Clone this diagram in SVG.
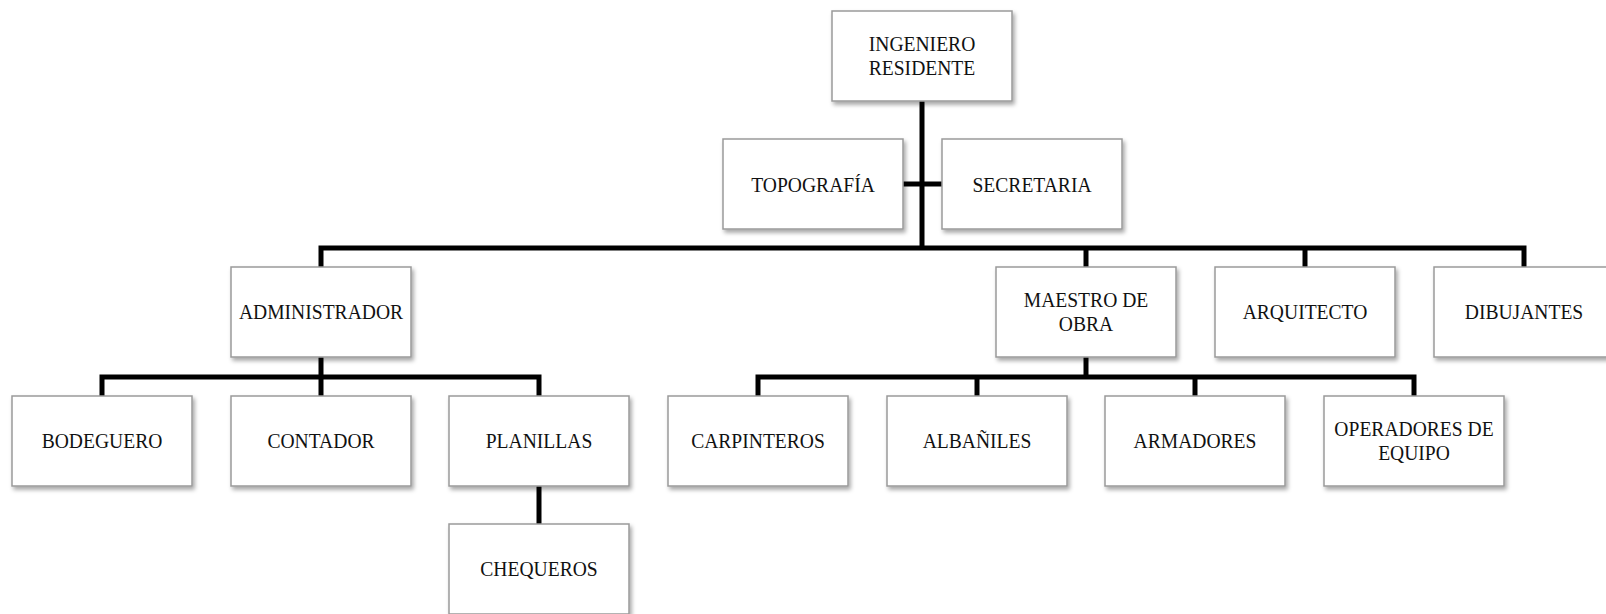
<svg xmlns="http://www.w3.org/2000/svg" width="1606" height="614" viewBox="0 0 1606 614">
  <defs>
    <filter id="shadow" x="-10%" y="-10%" width="125%" height="130%">
      <feDropShadow dx="2" dy="3" stdDeviation="2" flood-color="#000" flood-opacity="0.35"/>
    </filter>
    <style>
      .box { fill: #fff; stroke: #9a9a9a; stroke-width: 1.5; filter: url(#shadow); }
      .lbl { font-family: "Liberation Serif", "Times New Roman", serif; font-size: 22px; fill: #111; text-anchor: middle; }
      .wire { fill: none; stroke: #000; stroke-width: 5; stroke-linejoin: miter; stroke-linecap: butt; }
    </style>
  </defs>
  <rect width="1606" height="614" fill="#fff"/>

  <!-- connectors -->
  <g id="connectors">
    <path class="wire" d="M922,101 V248"/>
    <path class="wire" d="M903,184 H942"/>
    <path class="wire" d="M321,267 V248 H1524 V267"/>
    <path class="wire" d="M1086,248 V267"/>
    <path class="wire" d="M1305,248 V267"/>
    <path class="wire" d="M102,396 V377 H539 V396"/>
    <path class="wire" d="M321,357 V396"/>
    <path class="wire" d="M539,486 V524"/>
    <path class="wire" d="M758,396 V377 H1414 V396"/>
    <path class="wire" d="M1086,357 V377"/>
    <path class="wire" d="M977,377 V396"/>
    <path class="wire" d="M1195,377 V396"/>
  </g>

  <!-- nodes: box 180x90, label centred, glyphs narrowed horizontally -->
  <g id="n-ingeniero" transform="translate(832 11)">
    <rect class="box" width="180" height="90"/>
    <text class="lbl" transform="translate(90 39.5) scale(0.89 1)"><tspan x="0" y="0">INGENIERO</tspan><tspan x="0" y="25">RESIDENTE</tspan></text>
  </g>
  <g id="n-topografia" transform="translate(723 139)">
    <rect class="box" width="180" height="90"/>
    <text class="lbl" transform="translate(90 53) scale(0.89 1)">TOPOGRAFÍA</text>
  </g>
  <g id="n-secretaria" transform="translate(942 139)">
    <rect class="box" width="180" height="90"/>
    <text class="lbl" transform="translate(90 53) scale(0.89 1)">SECRETARIA</text>
  </g>
  <g id="n-administrador" transform="translate(231 267)">
    <rect class="box" width="180" height="90"/>
    <text class="lbl" transform="translate(90 52) scale(0.89 1)">ADMINISTRADOR</text>
  </g>
  <g id="n-maestro" transform="translate(996 267)">
    <rect class="box" width="180" height="90"/>
    <text class="lbl" transform="translate(90 39.5) scale(0.89 1)"><tspan x="0" y="0">MAESTRO DE</tspan><tspan x="0" y="25">OBRA</tspan></text>
  </g>
  <g id="n-arquitecto" transform="translate(1215 267)">
    <rect class="box" width="180" height="90"/>
    <text class="lbl" transform="translate(90 52) scale(0.89 1)">ARQUITECTO</text>
  </g>
  <g id="n-dibujantes" transform="translate(1434 267)">
    <rect class="box" width="180" height="90"/>
    <text class="lbl" transform="translate(90 52) scale(0.89 1)">DIBUJANTES</text>
  </g>
  <g id="n-bodeguero" transform="translate(12 396)">
    <rect class="box" width="180" height="90"/>
    <text class="lbl" transform="translate(90 52) scale(0.89 1)">BODEGUERO</text>
  </g>
  <g id="n-contador" transform="translate(231 396)">
    <rect class="box" width="180" height="90"/>
    <text class="lbl" transform="translate(90 52) scale(0.89 1)">CONTADOR</text>
  </g>
  <g id="n-planillas" transform="translate(449 396)">
    <rect class="box" width="180" height="90"/>
    <text class="lbl" transform="translate(90 52) scale(0.89 1)">PLANILLAS</text>
  </g>
  <g id="n-chequeros" transform="translate(449 524)">
    <rect class="box" width="180" height="90"/>
    <text class="lbl" transform="translate(90 52) scale(0.89 1)">CHEQUEROS</text>
  </g>
  <g id="n-carpinteros" transform="translate(668 396)">
    <rect class="box" width="180" height="90"/>
    <text class="lbl" transform="translate(90 52) scale(0.89 1)">CARPINTEROS</text>
  </g>
  <g id="n-albaniles" transform="translate(887 396)">
    <rect class="box" width="180" height="90"/>
    <text class="lbl" transform="translate(90 52) scale(0.89 1)">ALBAÑILES</text>
  </g>
  <g id="n-armadores" transform="translate(1105 396)">
    <rect class="box" width="180" height="90"/>
    <text class="lbl" transform="translate(90 52) scale(0.89 1)">ARMADORES</text>
  </g>
  <g id="n-operadores" transform="translate(1324 396)">
    <rect class="box" width="180" height="90"/>
    <text class="lbl" transform="translate(90 39.5) scale(0.89 1)"><tspan x="0" y="0">OPERADORES DE</tspan><tspan x="0" y="25">EQUIPO</tspan></text>
  </g>
</svg>
